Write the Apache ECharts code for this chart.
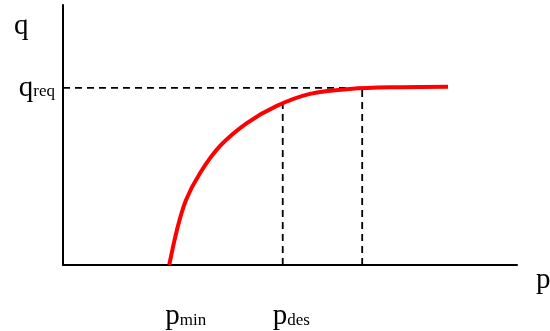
<!DOCTYPE html>
<html>
<head>
<meta charset="utf-8">
<script src="https://cdn.jsdelivr.net/npm/echarts@6/dist/echarts.min.js"></script>
<style>
  html, body { margin: 0; padding: 0; background: #fff; }
  #chart { width: 550px; height: 331px; }
</style>
</head>
<body>
<div id="chart"></div>
<script>
const chart = echarts.init(document.getElementById("chart"));

// data (arbitrary units, 0..100 on both axes)
const curveP = [23.4, 25.1, 27.1, 30.2, 34.6, 40.5, 47.1, 54.4, 63.2, 74.2, 84.8];
const curveQ = [0, 13.5, 25.0, 35.4, 45.8, 54.6, 61.2, 65.8, 67.7, 68.4, 68.6];
const qReq = 68.1;
const pMin = 23.4;
const pDes = 48.4;
const pDesQ = 62.0;
const pSat = 65.9;

const FONT = "Liberation Serif";

const rich = {
  g: { width: 6 },
  b: { fontFamily: FONT, fontSize: 29, color: "#000" },
  s: { fontFamily: FONT, fontSize: 17, color: "#000", padding: [8, 0, 0, 0] }
};

const dashed = { color: "#000", width: 1.8, type: [7, 5] };

chart.setOption({
  animation: false,
  grid: { left: 63, right: 33, top: 5, bottom: 66 },
  xAxis: {
    type: "value", min: 0, max: 100,
    axisLine: { show: true, onZero: false, lineStyle: { color: "#000", width: 2 } },
    axisTick: { show: false },
    splitLine: { show: false },
    axisLabel: {
      customValues: [pMin, pDes],
      margin: 37,
      align: "left",
      padding: [0, 0, 0, -10],
      formatter: (v) => v === pMin ? "{g|}{b|p}{s|min}" : "{b|p}{s|des}",
      rich: rich
    }
  },
  yAxis: {
    type: "value", min: 0, max: 100,
    axisLine: { show: true, lineStyle: { color: "#000", width: 2 } },
    axisTick: { show: false },
    splitLine: { show: false },
    axisLabel: {
      customValues: [qReq],
      margin: 8,
      formatter: () => "{b|q}{s|req}",
      rich: rich
    }
  },
  graphic: [
    { type: "text", left: 14, top: 12, style: { text: "q", font: "29px " + FONT, fill: "#000" } },
    { type: "text", left: 536, top: 266, style: { text: "p", font: "29px " + FONT, fill: "#000" } }
  ],
  series: [
    {
      type: "line", data: [[0, qReq], [pSat, qReq]],
      symbol: "none", lineStyle: dashed, silent: true
    },
    {
      type: "line", data: [[pDes, 0], [pDes, pDesQ]],
      symbol: "none", lineStyle: dashed, silent: true
    },
    {
      type: "line", data: [[pSat, 0], [pSat, qReq]],
      symbol: "none", lineStyle: dashed, silent: true
    },
    {
      type: "line",
      data: curveP.map((p, i) => [p, curveQ[i]]),
      smooth: 0.35,
      symbol: "none",
      lineStyle: { color: "#ff0000", width: 4 },
      z: 5
    }
  ]
});
</script>
</body>
</html>
